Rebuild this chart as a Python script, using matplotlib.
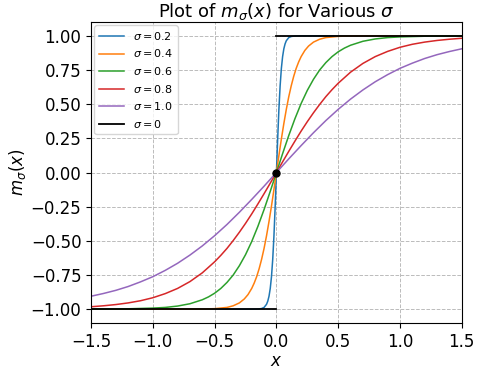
import matplotlib
matplotlib.use("Agg")
import matplotlib.pyplot as plt

# values (x >= 0 half; every curve is odd about the origin)
x_s02 = [0.0, 0.01, 0.02, 0.03, 0.04, 0.05, 0.06, 0.07, 0.08, 0.1, 0.12, 0.15, 0.2, 1.5]
y_s02 = [0.0, 0.245, 0.462, 0.635, 0.762, 0.848, 0.905, 0.941, 0.964, 0.987, 0.995, 0.999, 1.0, 1.0]

x_s04 = [0.0, 0.02, 0.04, 0.06, 0.08, 0.1, 0.12, 0.14, 0.16, 0.18, 0.2, 0.23, 0.26, 0.3,
         0.35, 0.4, 0.5, 0.6, 0.8, 1.5]
y_s04 = [0.0, 0.124, 0.245, 0.358, 0.462, 0.555, 0.635, 0.704, 0.762, 0.809, 0.848, 0.893, 0.925, 0.954,
         0.975, 0.987, 0.996, 0.999, 1.0, 1.0]

x_s06 = [0.0, 0.05, 0.1, 0.15, 0.2, 0.25, 0.3, 0.35, 0.4, 0.45, 0.5, 0.55, 0.6, 0.7,
         0.8, 0.9, 1.0, 1.2, 1.5]
y_s06 = [0.0, 0.138, 0.271, 0.394, 0.505, 0.601, 0.682, 0.750, 0.804, 0.848, 0.883, 0.910, 0.931, 0.960,
         0.977, 0.987, 0.992, 0.997, 0.9995]

x_s08 = [0.0, 0.05, 0.1, 0.15, 0.2, 0.25, 0.3, 0.35, 0.4, 0.45, 0.5, 0.6, 0.7, 0.8,
         0.9, 1.0, 1.1, 1.2, 1.3, 1.4, 1.5]
y_s08 = [0.0, 0.078, 0.155, 0.230, 0.303, 0.372, 0.437, 0.498, 0.555, 0.606, 0.653, 0.734, 0.798, 0.848,
         0.886, 0.916, 0.938, 0.954, 0.966, 0.975, 0.982]

x_s10 = [0.0, 0.1, 0.2, 0.3, 0.4, 0.5, 0.6, 0.7, 0.8, 0.9, 1.0, 1.1, 1.2, 1.3, 1.4, 1.5]
y_s10 = [0.0, 0.100, 0.197, 0.291, 0.380, 0.462, 0.537, 0.604, 0.664, 0.716, 0.762, 0.800, 0.834,
         0.862, 0.885, 0.905]

sigma_labels = ["0.2", "0.4", "0.6", "0.8", "1.0"]
curves = [(x_s02, y_s02), (x_s04, y_s04), (x_s06, y_s06), (x_s08, y_s08), (x_s10, y_s10)]

# sigma = 0 : step, two flat pieces
step_left_x = [-1.5, 0.0]
step_left_y = [-1.0, -1.0]
step_right_x = [0.0, 1.5]
step_right_y = [1.0, 1.0]
origin = (0.0, 0.0)


def mirror(xs, ys):
    # odd curve: reflect the x>=0 half through the origin
    xf = [-v for v in reversed(xs[1:])] + list(xs)
    yf = [-v for v in reversed(ys[1:])] + list(ys)
    return xf, yf


fig = plt.figure(figsize=(4.82, 3.69), dpi=100)
ax = fig.add_axes([0.189, 0.125, 0.769, 0.815])

for lab, (xs, ys) in zip(sigma_labels, curves):
    xf, yf = mirror(xs, ys)
    ax.plot(xf, yf, lw=1.1, label=r"$\sigma = %s$" % lab)

ax.plot(step_left_x, step_left_y, color="black", lw=1.3, label=r"$\sigma = 0$")
ax.plot(step_right_x, step_right_y, color="black", lw=1.3)
ax.plot(origin[0], origin[1], "o", color="black", ms=5, zorder=5)

ax.set_xlim(-1.5, 1.5)
ax.set_ylim(-1.1, 1.1)
ax.set_xticks([-1.5, -1.0, -0.5, 0.0, 0.5, 1.0, 1.5])
ax.set_yticks([-1.0, -0.75, -0.5, -0.25, 0.0, 0.25, 0.5, 0.75, 1.0])
ax.tick_params(labelsize=12)
ax.grid(linestyle="--", color="#bbbbbb", linewidth=0.7)

ax.set_title(r"Plot of $m_\sigma(x)$ for Various $\sigma$", fontsize=13, pad=3)
ax.set_xlabel(r"$x$", fontsize=12, labelpad=1)
ax.set_ylabel(r"$m_\sigma(x)$", fontsize=12, labelpad=2)
ax.legend(loc="upper left", fontsize=8, handlelength=2.3, borderaxespad=0.3)

fig.savefig("out.png", dpi=100)
